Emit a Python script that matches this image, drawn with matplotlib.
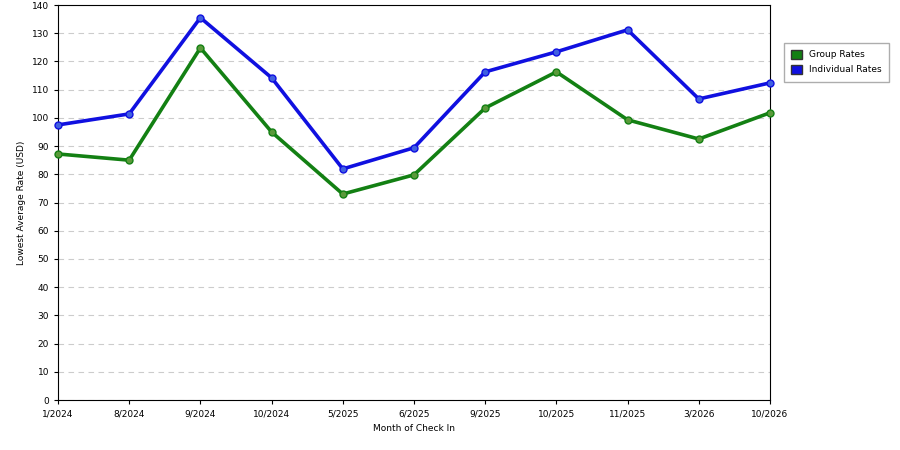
import matplotlib
matplotlib.use("Agg")
import matplotlib.pyplot as plt
from matplotlib.patches import Patch

months = ["1/2024","8/2024","9/2024","10/2024","5/2025","6/2025","9/2025","10/2025","11/2025","3/2026","10/2026"]
group = [87.2, 85, 124.8, 95, 73, 79.8, 103.5, 116.3, 99.3, 92.5, 101.8]
individual = [97.5, 101.4, 135.5, 114.2, 81.9, 89.4, 116.3, 123.4, 131.2, 106.7, 112.4]

fig = plt.figure(figsize=(9, 4.5), dpi=100)
ax = fig.add_axes([58/900, 1-400/450, 712/900, 395/450])
x = list(range(len(months)))
ax.plot(x, group, color="#138013", lw=2.6, marker="o", ms=5, mfc="#5a9a3a", mec="#138013", zorder=3, clip_on=False)
ax.plot(x, individual, color="#1010e0", lw=2.6, marker="o", ms=5, mfc="#4060e0", mec="#1010e0", zorder=3, clip_on=False)
ax.set_xlim(0, len(months)-1)
ax.set_ylim(0, 140)
ax.set_yticks(range(0, 141, 10))
ax.set_xticks(x)
ax.set_xticklabels(months)
ax.tick_params(labelsize=6.5, length=3)
ax.grid(axis="y", color="#cccccc", ls=(0, (5, 4)), lw=0.8)
ax.set_axisbelow(True)
ax.set_xlabel("Month of Check In", fontsize=6.5)
ax.set_ylabel("Lowest Average Rate (USD)", fontsize=6.5)
handles = [Patch(facecolor="#138013", edgecolor="#333333", label="Group Rates"),
           Patch(facecolor="#1010e0", edgecolor="#333333", label="Individual Rates")]
fig.legend(handles=handles, loc="upper left", bbox_to_anchor=(779/900, 1-38/450),
           fontsize=6.5, frameon=True, fancybox=False, edgecolor="#999999",
           handlelength=1.2, handleheight=1.2, borderpad=0.8, labelspacing=0.6)
fig.savefig("out.png", dpi=100)
